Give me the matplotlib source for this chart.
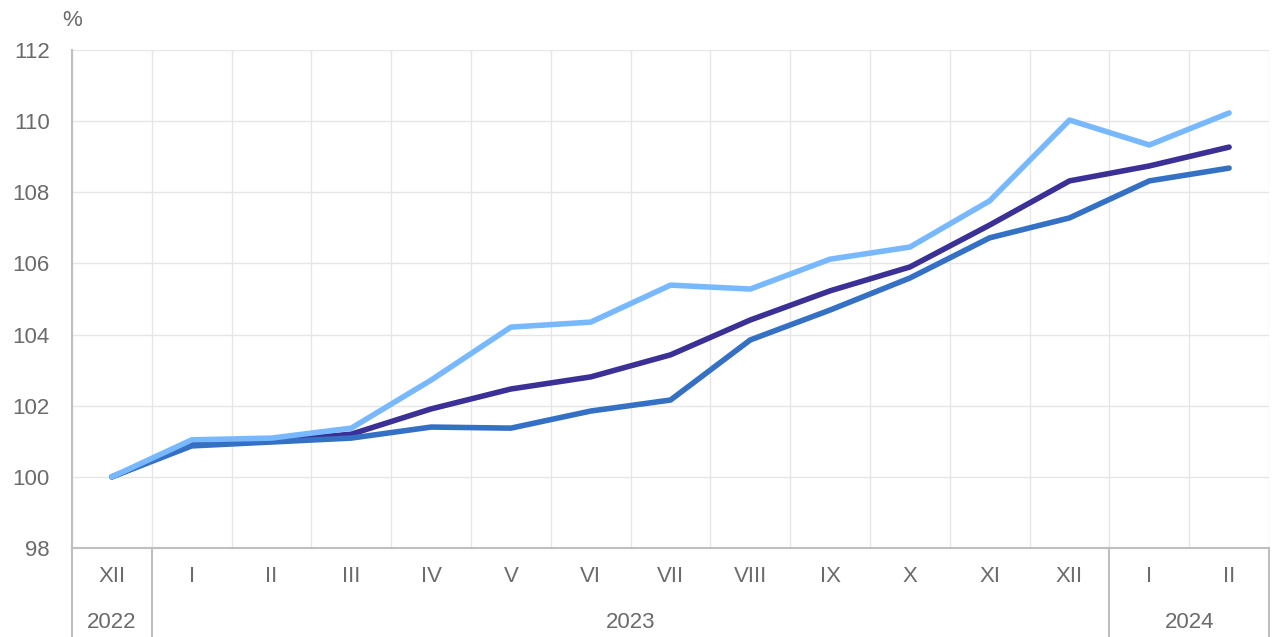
import matplotlib.pyplot as plt
import numpy as np

plt.rcParams['font.family'] = ['Liberation Sans', 'DejaVu Sans']

months = ['XII', 'I', 'II', 'III', 'IV', 'V', 'VI', 'VII', 'VIII', 'IX', 'X', 'XI', 'XII', 'I', 'II']
years = ['2022', '2023', '2024']
year_spans = [(0, 1), (1, 13), (13, 15)]

# three index series (%), Dec 2022 = 100
s_purple = [100.0, 100.92, 101.0, 101.2, 101.91, 102.47, 102.81, 103.43, 104.41, 105.23, 105.9, 107.08, 108.32, 108.74, 109.27]
s_mid = [100.0, 100.87, 100.98, 101.09, 101.4, 101.37, 101.85, 102.16, 103.85, 104.69, 105.59, 106.72, 107.28, 108.32, 108.68]
s_light = [100.0, 101.04, 101.09, 101.37, 102.72, 104.21, 104.35, 105.39, 105.28, 106.12, 106.46, 107.76, 110.03, 109.33, 110.23]

W, H = 1277, 637
fig = plt.figure(figsize=(W / 100, H / 100), dpi=100)
left, right, top, bottom = 72, 1269, 50, 548
ax = fig.add_axes([left / W, 1 - bottom / H, (right - left) / W, (bottom - top) / H])

x = np.arange(len(months))
ax.plot(x, s_purple, color='#3A3096', lw=4, solid_capstyle='round', zorder=3)
ax.plot(x, s_mid, color='#3470C4', lw=4, solid_capstyle='round', zorder=4)
ax.plot(x, s_light, color='#78B8FF', lw=4, solid_capstyle='round', zorder=5)

fs = 16
tc = '#6B6B6B'
ax.set_xlim(-0.5, len(months) - 0.5)
ax.set_ylim(98, 112)
ax.set_yticks(np.arange(98, 113, 2))
ax.set_xticks(np.arange(-0.5, len(months), 1), minor=False)
ax.set_xticklabels([])
ax.tick_params(axis='both', length=0)
ax.tick_params(axis='y', labelsize=fs, labelcolor=tc, pad=16)
ax.grid(True, color='#E6E6E6', lw=1)
ax.set_axisbelow(True)
for s in ['top', 'right']:
    ax.spines[s].set_visible(False)
ax.spines['left'].set_color('#BFBFBF')
ax.spines['left'].set_linewidth(1.5)
ax.spines['bottom'].set_color('#BFBFBF')
ax.spines['bottom'].set_linewidth(1.5)

# category labels below the axis
trans = ax.get_xaxis_transform()
for i, m in enumerate(months):
    ax.text(i, -0.058, m, transform=trans, ha='center', va='center', fontsize=fs, color=tc)
for (a, b), yr in zip(year_spans, years):
    ax.text((a + b - 1) / 2, -0.15, yr, transform=trans, ha='center', va='center', fontsize=fs, color=tc)
# separators
for xb in [-0.5, 0.5, 12.5, 14.5]:
    ax.plot([xb, xb], [0, -0.18], transform=trans, color='#BFBFBF', lw=1.5, clip_on=False)

fig.text(72 / W, 1 - 20 / H, '%', ha='center', va='center', fontsize=fs, color=tc)

fig.savefig('out.png', dpi=100)
